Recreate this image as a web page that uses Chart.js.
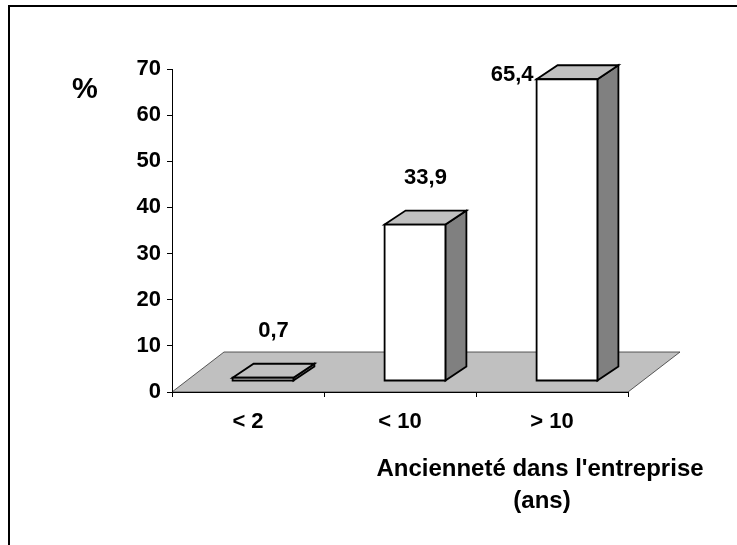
<!DOCTYPE html>
<html>
<head>
<meta charset="utf-8">
<script src="https://cdn.jsdelivr.net/npm/chart.js@4/dist/chart.umd.min.js"></script>
<style>
    html, body { margin: 0; padding: 0; background: #fff; }
    #wrap { width: 737px; height: 545px; }
</style>
</head>
<body>
<div id="wrap"><canvas id="ancienneteChart"></canvas></div>
<script>
// --- Data ---
const categories = ['< 2', '< 10', '> 10'];
const percentages = [0.7, 33.9, 65.4];
const yTicks = [0, 10, 20, 30, 40, 50, 60, 70];
const yAxisLabel = '%';
const xAxisTitle = ["Ancienneté dans l'entreprise", '(ans)'];

// 3D look (pixels)
const FLOOR_DX = 52, FLOOR_DY = 40;   // depth of the grey floor
const SHIFT_X = 15, SHIFT_Y = 11;     // bars stand a bit back on the floor
const BAR_DX = 21, BAR_DY = 14;       // depth of each bar
const FONT = "'Liberation Sans', Arial, sans-serif";

const frenchNumber = v => v.toFixed(1).replace('.', ',');

const depth3d = {
    id: 'depth3d',
    beforeDraw(chart) {
        const { ctx, chartArea, scales } = chart;
        ctx.save();
        // outer frame (only top and left edges are visible)
        ctx.strokeStyle = '#000';
        ctx.lineWidth = 2;
        ctx.beginPath();
        ctx.moveTo(9, 545);
        ctx.lineTo(9, 6);
        ctx.lineTo(737, 6);
        ctx.stroke();

        // floor
        const y0 = scales.y.getPixelForValue(0);
        const l = chartArea.left, r = chartArea.right;
        ctx.beginPath();
        ctx.moveTo(l, y0);
        ctx.lineTo(l + FLOOR_DX, y0 - FLOOR_DY);
        ctx.lineTo(r + FLOOR_DX, y0 - FLOOR_DY);
        ctx.lineTo(r, y0);
        ctx.closePath();
        ctx.fillStyle = '#c0c0c0';
        ctx.fill();
        ctx.lineWidth = 0.8;
        ctx.strokeStyle = '#333';
        ctx.stroke();
        ctx.restore();
    },
    afterDatasetsDraw(chart) {
        const { ctx, chartArea } = chart;
        const meta = chart.getDatasetMeta(0);
        ctx.save();
        ctx.lineWidth = 1.8;
        ctx.lineJoin = 'miter';
        ctx.strokeStyle = '#000';
        meta.data.forEach((bar, i) => {
            const left = bar.x - bar.width / 2 + SHIFT_X;
            const right = left + bar.width;
            const top = bar.y - SHIFT_Y;
            const bottom = bar.base - SHIFT_Y;

            // side face
            ctx.beginPath();
            ctx.moveTo(right, top);
            ctx.lineTo(right + BAR_DX, top - BAR_DY);
            ctx.lineTo(right + BAR_DX, bottom - BAR_DY);
            ctx.lineTo(right, bottom);
            ctx.closePath();
            ctx.fillStyle = '#808080';
            ctx.fill();
            ctx.stroke();

            // top face
            ctx.beginPath();
            ctx.moveTo(left, top);
            ctx.lineTo(left + BAR_DX, top - BAR_DY);
            ctx.lineTo(right + BAR_DX, top - BAR_DY);
            ctx.lineTo(right, top);
            ctx.closePath();
            ctx.fillStyle = '#c0c0c0';
            ctx.fill();
            ctx.stroke();

            // front face
            ctx.beginPath();
            ctx.rect(left, top, bar.width, bottom - top);
            ctx.fillStyle = '#fff';
            ctx.fill();
            ctx.stroke();

            // value label above the bar, or to its left if there is no room
            ctx.fillStyle = '#000';
            ctx.font = 'bold 22px ' + FONT;
            ctx.textBaseline = 'middle';
            const text = frenchNumber(percentages[i]);
            const ly = top - 47;
            if (ly < chartArea.top) {
                ctx.textAlign = 'right';
                ctx.fillText(text, left - 3, top - 4);
            } else {
                ctx.textAlign = 'center';
                ctx.fillText(text, (left + right + BAR_DX) / 2, ly);
            }
        });
        ctx.restore();
    },
    afterDraw(chart) {
        const { ctx } = chart;
        ctx.save();
        ctx.fillStyle = '#000';
        ctx.textAlign = 'center';
        ctx.textBaseline = 'middle';
        ctx.font = 'bold 29px ' + FONT;
        ctx.fillText(yAxisLabel, 85, 90);
        ctx.font = 'bold 24px ' + FONT;
        ctx.fillText(xAxisTitle[0], 540, 469);
        ctx.fillText(xAxisTitle[1], 542, 501);
        ctx.restore();
    }
};

const ctx = document.getElementById('ancienneteChart').getContext('2d');
new Chart(ctx, {
    type: 'bar',
    data: {
        labels: categories,
        datasets: [{
            data: percentages,
            backgroundColor: 'rgba(0,0,0,0)',
            borderWidth: 0,
            barPercentage: 0.4,
            categoryPercentage: 1
        }]
    },
    options: {
        responsive: true,
        maintainAspectRatio: false,
        animation: false,
        layout: { padding: { left: 0, top: 69, right: 109, bottom: 93 } },
        plugins: {
            legend: { display: false },
            tooltip: { enabled: false }
        },
        scales: {
            x: {
                grid: { drawOnChartArea: false, tickLength: 5, color: '#000', offset: true },
                border: { display: true, color: '#000', width: 1 },
                ticks: { color: '#000', padding: 12, font: { family: FONT, size: 22, weight: 'bold' } },
                afterFit: s => { s.height = 60; }
            },
            y: {
                min: 0,
                max: 70,
                afterBuildTicks: s => { s.ticks = yTicks.map(v => ({ value: v })); },
                grid: { drawOnChartArea: false, tickLength: 5, color: '#000' },
                border: { display: true, color: '#000', width: 1 },
                ticks: { color: '#000', padding: 6, font: { family: FONT, size: 22, weight: 'bold' } },
                afterFit: s => { s.width = 172; }
            }
        }
    },
    plugins: [depth3d]
});
</script>
</body>
</html>
